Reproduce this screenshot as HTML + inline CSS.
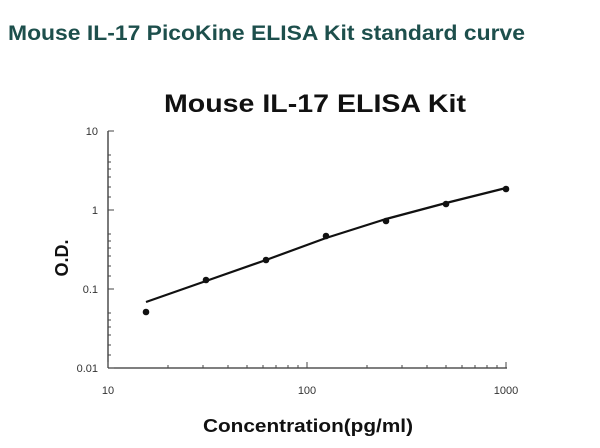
<!DOCTYPE html>
<html><head><style>
body{margin:0;width:600px;height:443px;background:#fff;overflow:hidden}
</style></head><body>
<svg width="600" height="443" xmlns="http://www.w3.org/2000/svg" font-family="Liberation Sans, sans-serif">
<text x="8" y="40" font-size="21" font-weight="bold" fill="#1d4f4c" textLength="517" lengthAdjust="spacingAndGlyphs">Mouse IL-17 PicoKine ELISA Kit standard curve</text>
<text x="164" y="112" font-size="25" font-weight="bold" fill="#111" textLength="302" lengthAdjust="spacingAndGlyphs">Mouse IL-17 ELISA Kit</text>
<g stroke="#333" stroke-width="1.3" fill="none">
<line x1="108" y1="131" x2="108" y2="368"/>
<line x1="108" y1="368" x2="507" y2="368"/>
</g>
<g stroke="#444" stroke-width="1">
<path d="M108 131h6M108 210h6M108 289h6M108 368h6
M108 155h3M108 162h3M108 169h3M108 177h3M108 187h3M108 197h3
M108 234h3M108 241h3M108 248h3M108 256h3M108 266h3M108 276h3
M108 313h3M108 320h3M108 327h3M108 335h3M108 345h3M108 355h3"/>
<path d="M108 368v-6M307 368v-6M506 368v-6
M168 368v-3M203 368v-3M228 368v-3M247 368v-3M263 368v-3M276 368v-3M288 368v-3M298 368v-3
M367 368v-3M402 368v-3M427 368v-3M446 368v-3M462 368v-3M475 368v-3M487 368v-3M497 368v-3"/>
</g>
<g font-size="11" fill="#333" text-anchor="end">
<text x="98" y="135">10</text>
<text x="98" y="214">1</text>
<text x="98" y="293">0.1</text>
<text x="98" y="372">0.01</text>
</g>
<g font-size="11" fill="#333" text-anchor="middle">
<text x="108" y="394">10</text>
<text x="307" y="394">100</text>
<text x="506" y="394">1000</text>
</g>
<text x="203" y="432" font-size="18" font-weight="bold" fill="#111" textLength="210" lengthAdjust="spacingAndGlyphs">Concentration(pg/ml)</text>
<text transform="translate(68,258) rotate(-90)" font-size="18" font-weight="bold" text-anchor="middle" fill="#111">O.D.</text>
<path d="M146 302 L206 281 L266 260 L326 238 L386 219 L446 203 L506 188" stroke="#111" stroke-width="2.2" fill="none" stroke-linejoin="round"/>
<g fill="#111">
<circle cx="146" cy="312" r="3.3"/>
<circle cx="206" cy="280" r="3.3"/>
<circle cx="266" cy="260" r="3.3"/>
<circle cx="326" cy="236" r="3.3"/>
<circle cx="386" cy="221" r="3.3"/>
<circle cx="446" cy="204" r="3.3"/>
<circle cx="506" cy="189" r="3.3"/>
</g>
</svg>
</body></html>
